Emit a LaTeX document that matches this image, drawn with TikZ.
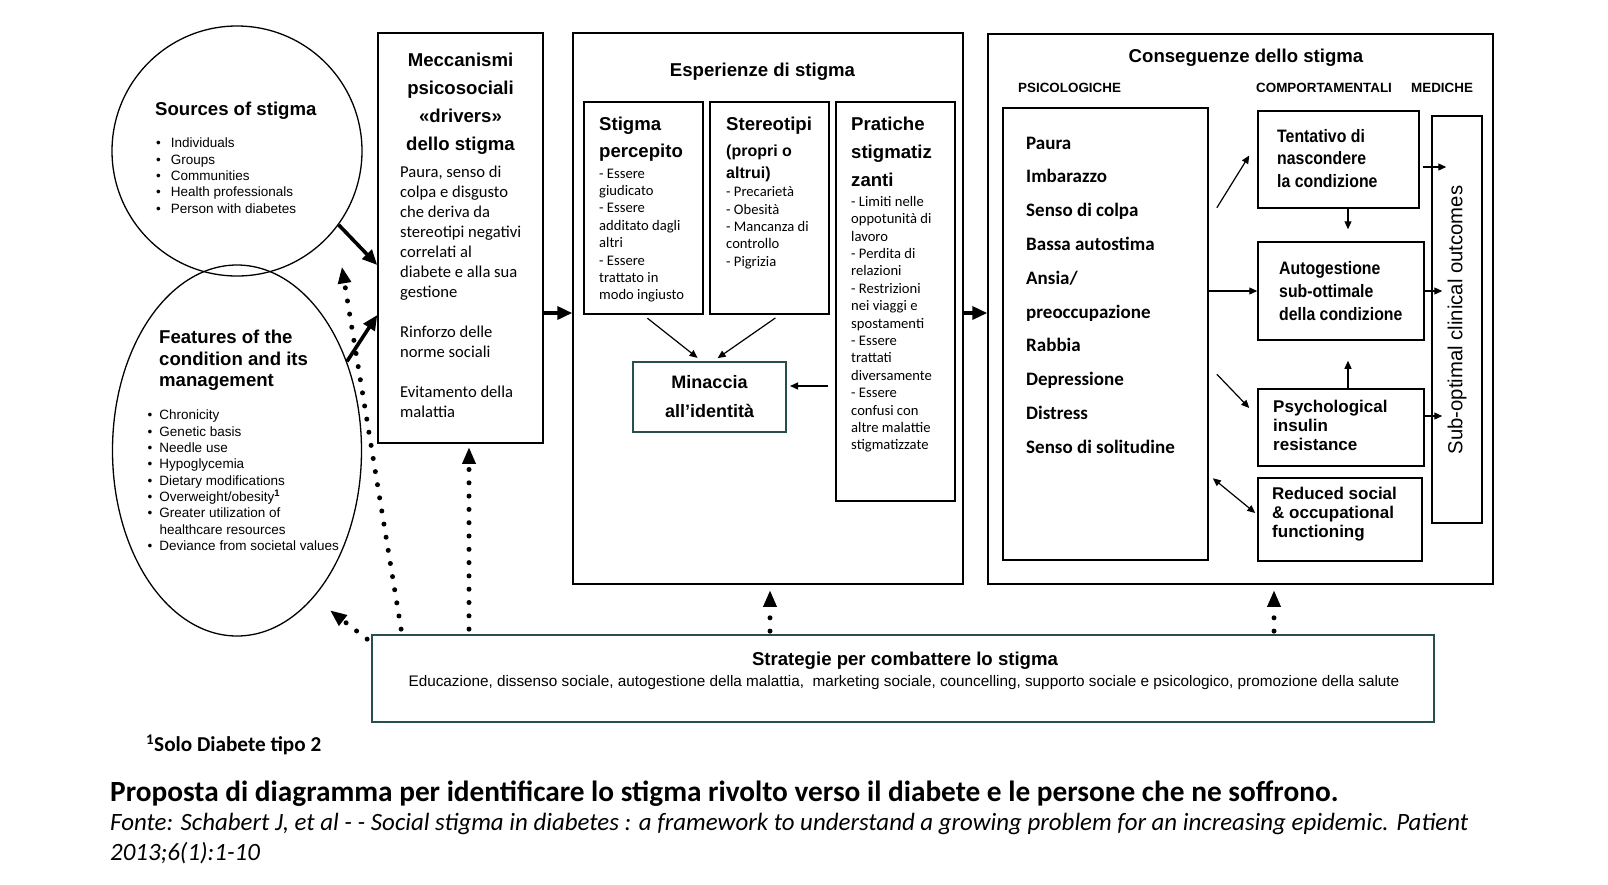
\documentclass[tikz,border=0pt]{standalone}
\usepackage{fontspec}
\setmainfont{Liberation Sans}
\newfontfamily\calibri{Carlito}
\newfontfamily\narrowsans[FakeStretch=0.88]{Liberation Sans}
\usepackage{tikz}
\usetikzlibrary{arrows.meta,positioning,shapes.geometric,calc}
\definecolor{tealdark}{RGB}{40,78,78}
\newcommand\bul[1]{\makebox[#1][l]{\textbullet}}

\begin{document}
\begin{tikzpicture}[
  x=1pt, y=-1pt,
  box/.style={rectangle, draw=black, line width=1.5pt, inner sep=0pt},
  inbox/.style={rectangle, draw=black, line width=2.2pt, inner sep=0pt},
  ttl/.style={inner sep=0pt, font=\bfseries\fontsize{18.6}{28}\selectfont},
  lst/.style={inner sep=0pt, align=left, font=\fontsize{13.5}{16.3}\selectfont},
  body/.style={inner sep=0pt, align=left, font=\calibri\fontsize{16.6}{20}\selectfont},
  item/.style={inner sep=0pt, align=left, font=\calibri\fontsize{14.6}{17.4}\selectfont},
  psi/.style={inner sep=0pt, align=left, font=\calibri\bfseries\fontsize{19}{33.8}\selectfont},
  colhd/.style={inner sep=0pt, font=\bfseries\fontsize{13.4}{16}\selectfont},
  beh/.style={inner sep=0pt, align=left, font=\narrowsans\bfseries\fontsize{18}{22.6}\selectfont},
  eng/.style={inner sep=0pt, align=left, font=\bfseries\fontsize{17}{19}\selectfont},
  thk/.style={line width=3.6pt, -{Triangle[length=15pt,width=13pt]}},
  arr/.style={line width=1.2pt, -{Triangle[length=8pt,width=7pt]}},
  dotarr/.style={line width=5pt, line cap=round, dash pattern=on 0pt off 13.3pt,
                 -{Triangle[length=16pt,width=14pt,line width=0pt]}}
]
\fill[white] (0,0) rectangle (1608,884);
\useasboundingbox (0,0) rectangle (1608,884);

\node[draw, circle, line width=1.3pt, minimum size=250pt, inner sep=0pt] (src) at (237,151) {};
\node[draw, ellipse, line width=1.3pt, minimum width=249pt, minimum height=371pt, inner sep=0pt] (feat) at (237,450.5) {};
\node[ttl, anchor=north west] (srct) at (155,101.5) {Sources of stigma};
\node[lst, anchor=north west] (srcl) at (156,138) {\bul{14.7pt}Individuals\\\bul{14.7pt}Groups\\\bul{14.7pt}Communities\\\bul{14.7pt}Health professionals\\\bul{14.7pt}Person with diabetes};
\node[ttl, font=\bfseries\fontsize{18.6}{21.5}\selectfont, align=left, anchor=north west] (featt) at (159,330) {Features of the\\condition and its\\management};
\node[lst, anchor=north west] (featl) at (147.5,410) {\bul{11.8pt}Chronicity\\\bul{11.8pt}Genetic basis\\\bul{11.8pt}Needle use\\\bul{11.8pt}Hypoglycemia\\\bul{11.8pt}Dietary modifications\\\bul{11.8pt}Overweight/obesity\textsuperscript{\textbf{1}}\\\bul{11.8pt}Greater utilization of\\\makebox[11.8pt]{}healthcare resources\\\bul{11.8pt}Deviance from societal values};

\node[box, minimum width=165pt, minimum height=410pt] (mecc) at (460.5,238) {};
\node[ttl, align=center, anchor=north] (mecct) at (460.5,52.5) {Meccanismi\\psicosociali\\«drivers»\\dello stigma};
\node[body, anchor=north west] (meccb) at (400,166) {Paura, senso di\\colpa e disgusto\\che deriva da\\stereotipi negativi\\correlati al\\diabete e alla sua\\gestione\\[20pt]Rinforzo delle\\norme sociali\\[20pt]Evitamento della\\malattia};

\node[box, minimum width=390pt, minimum height=551pt] (esp) at (768,308.5) {};
\node[ttl, anchor=north] (espt) at (762.5,63) {Esperienze di stigma};
\node[inbox, minimum width=119pt, minimum height=212pt] (perc) at (643.5,208) {};
\node[inbox, minimum width=119pt, minimum height=212pt] (ster) at (769.5,208) {};
\node[inbox, minimum width=119pt, minimum height=399pt] (prat) at (895.5,301.5) {};
\node[ttl, font=\bfseries\fontsize{18.6}{27}\selectfont, align=left, anchor=north west] (perct) at (599,116.5) {Stigma\\percepito};
\node[item, anchor=north west] (perci) at (599,168.5) {- Essere\\giudicato\\- Essere\\additato dagli\\altri\\- Essere\\trattato in\\modo ingiusto};
\node[ttl, anchor=north west] (stert) at (726,116.5) {Stereotipi};
\node[inner sep=0pt, align=left, font=\bfseries\fontsize{16}{22}\selectfont, anchor=north west] (sters) at (726,144.5) {(propri o\\altrui)};
\node[item, anchor=north west] (steri) at (726,186.5) {- Precarietà\\- Obesità\\- Mancanza di\\controllo\\- Pigrizia};
\node[ttl, align=left, anchor=north west] (pratt) at (851,116.5) {Pratiche\\stigmatiz\\zanti};
\node[item, anchor=north west] (prati) at (851,196) {- Limiti nelle\\oppotunità di\\lavoro\\- Perdita di\\relazioni\\- Restrizioni\\nei viaggi e\\spostamenti\\- Essere\\trattati\\diversamente\\- Essere\\confusi con\\altre malattie\\stigmatizzate};
\node[box, draw=tealdark, line width=2pt, minimum width=153pt, minimum height=70pt,
      align=center, font=\bfseries\fontsize{18}{29}\selectfont] (min) at (709.5,397) {Minaccia\\all’identità};

\node[box, minimum width=505pt, minimum height=550pt] (cons) at (1240.5,309) {};
\node[ttl, anchor=north] (const) at (1246,49) {Conseguenze dello stigma};
\node[colhd, anchor=north west] (hpsi) at (1018,83) {PSICOLOGICHE};
\node[colhd, anchor=north west] (hcomp) at (1256,83) {COMPORTAMENTALI};
\node[colhd, anchor=north west] (hmed) at (1411,83) {MEDICHE};
\node[box, line width=1.7pt, minimum width=205pt, minimum height=452pt] (psic) at (1105.5,334) {};
\node[psi, anchor=north west] (psici) at (1026,136.5) {Paura\\Imbarazzo\\Senso di colpa\\Bassa autostima\\Ansia/\\preoccupazione\\Rabbia\\Depressione\\Distress\\Senso di solitudine};
\node[box, minimum width=161pt, minimum height=97pt] (tent) at (1338.5,159.5) {};
\node[box, minimum width=166pt, minimum height=98pt] (auto) at (1341,291) {};
\node[box, minimum width=166pt, minimum height=77pt] (pir) at (1341,427.5) {};
\node[box, minimum width=164pt, minimum height=83pt] (red) at (1340,519.5) {};
\node[box, minimum width=50pt, minimum height=407pt] (subopt) at (1457,319.5) {};
\node[beh, anchor=west] (tentt) at (1277,158.5) {Tentativo di\\nascondere\\la condizione};
\node[beh, anchor=west] (autot) at (1279,291) {Autogestione\\sub-ottimale\\della condizione};
\node[eng, anchor=west] (pirt) at (1273,425) {Psychological\\insulin\\resistance};
\node[eng, anchor=west] (redt) at (1272,514) {Reduced social\\\& occupational\\functioning};
\node[rotate=90, inner sep=0pt, font=\fontsize{20.3}{24}\selectfont] (subt) at (1457,320) {Sub-optimal clinical outcomes};

\node[box, draw=tealdark, line width=1.8pt, minimum width=1062pt, minimum height=87pt] (strat) at (903,678.5) {};
\node[ttl, anchor=north] (stratt) at (905,652) {Strategie per combattere lo stigma};
\node[inner sep=0pt, font=\fontsize{15.3}{18}\selectfont, anchor=north] (strats) at (904,675.5) {Educazione, dissenso sociale, autogestione della malattia,\ \ marketing sociale, councelling, supporto sociale e psicologico, promozione della salute};

\node[inner sep=0pt, anchor=west, font=\calibri\bfseries\fontsize{21.2}{25}\selectfont] (fn) at (146,745) {\textsuperscript{1}Solo Diabete tipo 2};
\node[inner sep=0pt, anchor=west, font=\calibri\bfseries\fontsize{29.3}{35}\selectfont] (capt) at (110,794) {Proposta di diagramma per identificare lo stigma rivolto verso il diabete e le persone che ne soffrono.};
\node[inner sep=0pt, anchor=north west, align=left, font=\calibri\itshape\fontsize{24.9}{29.5}\selectfont] (fonte) at (110,813) {Fonte: Schabert J, et al - - Social stigma in diabetes : a framework to understand a growing problem for an increasing epidemic. Patient\\2013;6(1):1-10};

\draw[thk] (src.-36) -- ($(mecc.west)+(0,27)$);
\draw[thk] (feat.39) -- ($(mecc.west)+(0,77)$);
\draw[thk] ($(mecc.east)+(0,75)$) -- ($(esp.west)+(0,4.5)$);
\draw[thk] ($(esp.east)+(0,4.5)$) -- ($(cons.west)+(0,4)$);

\draw[arr, shorten <=5pt, shorten >=5pt] (perc.south) -- ($(min.north)+(-8,0)$);
\draw[arr, shorten <=5pt, shorten >=5pt] ($(ster.south)+(10,0)$) -- ($(min.north)+(4,0)$);
\draw[arr, shorten <=7pt, shorten >=3pt] (prat.west |- 0,386) -- (min.east |- 0,386);

\draw[arr] ($(psic.east |- tent.south)+(8,-1)$) -- ($(tent.west)+(-8,-4)$);
\draw[arr] (psic.east |- auto.west) -- (auto.west);
\draw[arr] ($(psic.east |- pir.north)+(8,-14)$) -- ($(pir.west)+(-8,-19.5)$);
\draw[arr, {Triangle[length=8pt,width=7pt]}-{Triangle[length=8pt,width=7pt]}] ($(psic.east |- red.north)+(4,1)$) -- ($(red.west)+(-2,-6.5)$);
\draw[arr] ($(tent.south)+(9.5,0)$) -- ($(auto.north)+(7,-12)$);
\draw[arr] ($(pir.north)+(7,0)$) -- ($(auto.south)+(7,20)$);
\draw[arr] ($(tent.east)+(3,7.5)$) -- ($(subopt.west |- tent.east)+(15,7.5)$);
\draw[arr] (auto.east) -- ($(subopt.west |- auto.east)+(11,0)$);
\draw[arr] ($(pir.east)+(0,-11.5)$) -- ($(subopt.west |- pir.east)+(11,-11.5)$);

\draw[dotarr] ($(mecc.south |- strat.north)+(8.5,-5)$) -- ($(mecc.south)+(8.5,4)$);
\draw[dotarr] ($(strat.north west)+(30,-5)$) -- ($(feat.north)+(105,3)$);
\draw[dotarr] ($(strat.north west)+(-4,5)$) -- ($(feat.-60)+(12,19)$);
\draw[dotarr] ($(esp.south |- strat.north)+(2,-3)$) -- ($(esp.south)+(2,6)$);
\draw[dotarr] ($(cons.south |- strat.north)+(33.5,-3)$) -- ($(cons.south)+(33.5,6)$);
\end{tikzpicture}
\end{document}
